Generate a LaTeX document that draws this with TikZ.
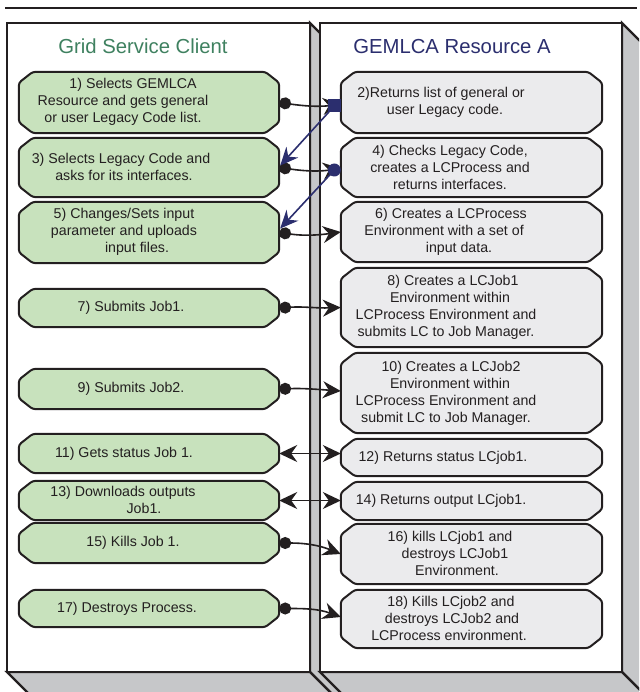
\documentclass[tikz,border=0pt]{standalone}
\usepackage{fontspec}
\setmainfont{Liberation Sans}
\usetikzlibrary{arrows.meta,calc}

\definecolor{ink}{HTML}{231F20}
\definecolor{leaf}{HTML}{C8E2BD}
\definecolor{mist}{HTML}{EBEBED}
\definecolor{slab}{HTML}{C6C7C9}
\definecolor{navyline}{HTML}{2B2E6E}
\definecolor{clienttitle}{HTML}{3F8160}

% chamfered outline drawn around a named (invisible) slot node
\newcommand\chbox[2]{%
  \draw[boxline, fill=#2]
    ($(#1.north west)+(14,0)$) -- ($(#1.north east)+(-14,0)$)
    -- ($(#1.north east)+(0,11)$) -- ($(#1.south east)+(0,-11)$)
    -- ($(#1.south east)+(-14,0)$) -- ($(#1.south west)+(14,0)$)
    -- ($(#1.south west)+(0,-11)$) -- ($(#1.north west)+(0,11)$) -- cycle;}

\tikzset{
  frame/.style={draw=ink, line width=2.2pt, line join=miter},
  boxline/.style={draw=ink, line width=2pt, rounded corners=3pt},
  slot/.style={draw=none, inner sep=0pt, minimum width=260pt},
  rslot/.style={draw=none, inner sep=0pt, minimum width=261pt},
  txt/.style={font=\fontsize{14.2}{17}\selectfont, align=center, text=ink, inner sep=0pt},
  heading/.style={font=\fontsize{20.3}{24}\selectfont, anchor=base, inner sep=0pt},
  tipb/.tip={Stealth[length=18pt, width=17pt, inset=6pt]},
  link/.style={draw=ink, line width=1.6pt},
  sends/.style={link, {Circle[length=12pt]}-tipb},
  both/.style={link, tipb-tipb},
  navylink/.style={draw=navyline, line width=1.6pt, -{Stealth[length=18pt, width=16pt, inset=6pt]}},
  navysq/.style={fill=navyline, inner sep=0pt, minimum size=13pt, rectangle},
  navydot/.style={fill=navyline, inner sep=0pt, minimum size=13pt, circle},
}

\begin{document}
\begin{tikzpicture}[x=1pt, y=-1pt]
\useasboundingbox (0,0) rectangle (639,692);
\clip (0,0) rectangle (639,692);

% top rule
\draw[ink, line width=2.5pt] (5,8) -- (637,8);

% client panel (with extruded sides)
\filldraw[frame, fill=slab] (310,23) -- (340,53) -- (340,702) -- (310,672) -- cycle;
\filldraw[frame, fill=slab] (7,672) -- (310,672) -- (340,702) -- (37,702) -- cycle;
\filldraw[frame, fill=white] (7,23) rectangle (310,672);

% resource panel (with extruded sides)
\filldraw[frame, fill=slab] (622,23) -- (652,53) -- (652,702) -- (622,672) -- cycle;
\filldraw[frame, fill=slab] (320,672) -- (622,672) -- (652,702) -- (350,702) -- cycle;
\filldraw[frame, fill=white] (320,23) rectangle (622,672);

\node[heading, text=clienttitle] (tclient) at (143,54) {Grid Service Client};
\node[heading, text=navyline] (tres) at (452,54) {GEMLCA Resource A};

% ---- client steps ----
\node[slot, minimum height=61pt] (c1) at (149,102.5) {}; \chbox{c1}{leaf}
\node[txt] (c1t) at (123,102) {\hspace*{20pt}1) Selects GEMLCA\\Resource and gets general\\or user Legacy Code list.};

\node[slot, minimum height=59pt] (c3) at (149,167.5) {}; \chbox{c3}{leaf}
\node[txt] (c3t) at (121,167) {3) Selects Legacy Code and\\\hspace*{6pt}asks for its interfaces.};

\node[slot, minimum height=61pt] (c5) at (149,232.5) {}; \chbox{c5}{leaf}
\node[txt] (c5t) at (124,232) {5) Changes/Sets input\\parameter and uploads\\\hspace*{26pt}input files.};

\node[slot, minimum height=38pt] (c7) at (149,308) {}; \chbox{c7}{leaf}
\node[txt] (c7t) at (131,308) {7) Submits Job1.};

\node[slot, minimum height=40pt] (c9) at (149,389) {}; \chbox{c9}{leaf}
\node[txt] (c9t) at (131,389) {9) Submits Job2.};

\node[slot, minimum height=39pt] (c11) at (149,453.5) {}; \chbox{c11}{leaf}
\node[txt] (c11t) at (124,453.5) {11) Gets status Job 1.};

\node[slot, minimum height=39pt] (c13) at (149,500.5) {}; \chbox{c13}{leaf}
\node[txt] (c13t) at (123,500) {13) Downloads outputs\\\hspace*{42pt}Job1.};

\node[slot, minimum height=40pt] (c15) at (149,543) {}; \chbox{c15}{leaf}
\node[txt] (c15t) at (133,543) {15) Kills Job 1.};

\node[slot, minimum height=37pt] (c17) at (149,608.5) {}; \chbox{c17}{leaf}
\node[txt] (c17t) at (127,608.5) {17) Destroys Process.};

% ---- resource steps ----
\node[rslot, minimum height=61pt] (r2) at (471.5,102.5) {}; \chbox{r2}{mist}
\node[txt] (r2t) at (441,102) {2)Returns list of general or\\\hspace*{8pt}user Legacy code.};

\node[rslot, minimum height=59pt] (r4) at (471.5,167.5) {}; \chbox{r4}{mist}
\node[txt] (r4t) at (450,167) {4) Checks Legacy Code,\\creates a LCProcess and\\returns interfaces.};

\node[rslot, minimum height=60pt] (r6) at (471.5,232) {}; \chbox{r6}{mist}
\node[txt] (r6t) at (444,231.5) {\hspace*{14pt}6) Creates a LCProcess\\Environment with a set of\\\hspace*{30pt}input data.};

\node[rslot, minimum height=79pt] (r8) at (471.5,307.5) {}; \chbox{r8}{mist}
\node[txt] (r8t) at (446,307.5) {\hspace*{14pt}8) Creates a LCJob1\\\hspace*{8pt}Environment within\\LCProcess Environment and\\submits LC to Job Manager.};

\node[rslot, minimum height=80pt] (r10) at (471.5,393) {}; \chbox{r10}{mist}
\node[txt] (r10t) at (446,393) {\hspace*{10pt}10) Creates a LCJob2\\\hspace*{8pt}Environment within\\LCProcess Environment and\\submit LC to Job Manager.};

\node[rslot, minimum height=37pt] (r12) at (471.5,457.5) {}; \chbox{r12}{mist}
\node[txt] (r12t) at (443,457.5) {12) Returns status LCjob1.};

\node[rslot, minimum height=38pt] (r14) at (471.5,501) {}; \chbox{r14}{mist}
\node[txt] (r14t) at (441,501) {14) Returns output LCjob1.};

\node[rslot, minimum height=60pt] (r16) at (471.5,554) {}; \chbox{r16}{mist}
\node[txt] (r16t) at (450,553.5) {16) kills LCjob1 and\\\hspace*{10pt}destroys LCJob1\\\hspace*{14pt}Environment.};

\node[rslot, minimum height=58pt] (r18) at (471.5,619) {}; \chbox{r18}{mist}
\node[txt] (r18t) at (449,618.5) {\hspace*{4pt}18) Kills LCjob2 and\\\hspace*{6pt}destroys LCJob2 and\\LCProcess environment.};

% ---- exchanges ----
\draw[sends] (c1.east) to[out=-8, in=186] ($(r2.west)+(0,2)$);
\draw[sends] (c3.east) to[out=-8, in=188] ($(r4.west)+(0,1)$);
\draw[sends] (c5.east) to[out=-8, in=188] (r6.west);
\draw[sends] (c7.east) to[out=4, in=182] (r8.west);
\draw[sends] (c9.east) to[out=2, in=176] ($(r10.west)+(0,-2)$);
\draw[both] (c11.east) -- (c11.east -| r12.west);
\draw[both] (c13.east) -- (c13.east -| r14.west);
\draw[sends] (c15.east) to[out=0, in=158] (r16.west);
\draw[sends] (c17.east) to[out=0, in=160] ($(r18.west)+(0,-2)$);

% interface hand-backs
\node[navysq] (q2) at ($(r2.west)+(-6.5,3.5)$) {};
\node[navydot] (q4) at ($(r4.west)+(-6.5,2.5)$) {};
\draw[navylink] (q2.center) -- ($(c3.east)+(1,-2)$);
\draw[navylink] (q4.center) -- ($(c5.east)+(1,-4)$);
\end{tikzpicture}
\end{document}
